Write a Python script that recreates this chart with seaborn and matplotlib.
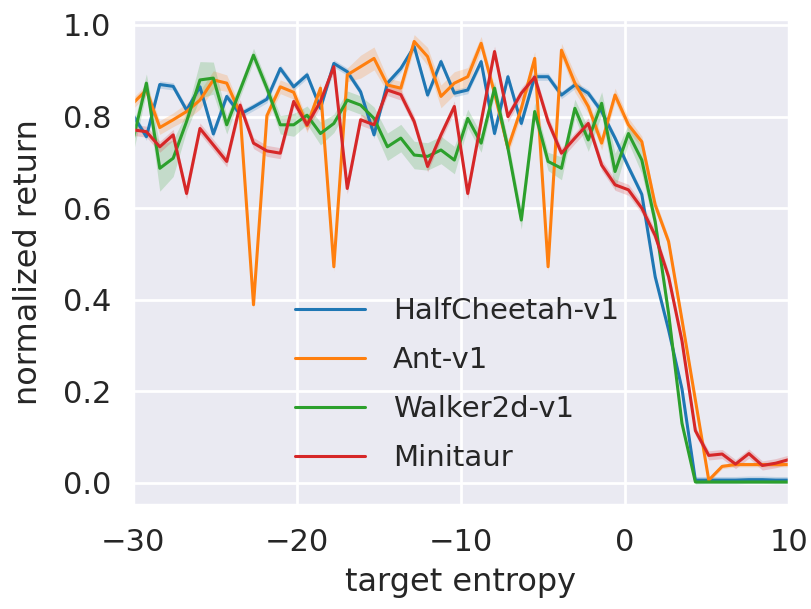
import numpy as np
import pandas as pd
import matplotlib
matplotlib.use("Agg")
import matplotlib.pyplot as plt
import seaborn as sns

# ---------------- data ----------------
target_entropy = np.linspace(-30, 10, 50)

envs = ["HalfCheetah-v1", "Ant-v1", "Walker2d-v1", "Minitaur"]

halfcheetah = [0.803, 0.756, 0.870, 0.866, 0.814, 0.865, 0.762, 0.844, 0.805, 0.821,
               0.838, 0.905, 0.865, 0.891, 0.818, 0.916, 0.898, 0.854, 0.760, 0.873,
               0.905, 0.953, 0.847, 0.920, 0.851, 0.858, 0.920, 0.763, 0.887, 0.785,
               0.887, 0.887, 0.847, 0.869, 0.851, 0.811, 0.753, 0.690, 0.630, 0.450,
               0.334, 0.205, 0.006, 0.006, 0.006, 0.006, 0.007, 0.007, 0.006, 0.006]
ant = [0.829, 0.858, 0.776, 0.793, 0.811, 0.836, 0.880, 0.873, 0.807, 0.389,
       0.802, 0.865, 0.853, 0.780, 0.862, 0.472, 0.891, 0.909, 0.927, 0.869,
       0.862, 0.964, 0.931, 0.844, 0.873, 0.887, 0.960, 0.851, 0.731, 0.818,
       0.927, 0.472, 0.945, 0.873, 0.822, 0.742, 0.847, 0.782, 0.745, 0.607,
       0.527, 0.356, 0.181, 0.006, 0.036, 0.040, 0.040, 0.040, 0.040, 0.040]
walker2d = [0.749, 0.873, 0.687, 0.709, 0.789, 0.880, 0.884, 0.782, 0.858, 0.934,
            0.862, 0.782, 0.782, 0.803, 0.763, 0.785, 0.836, 0.825, 0.796, 0.734,
            0.753, 0.716, 0.713, 0.727, 0.705, 0.796, 0.742, 0.862, 0.731, 0.574,
            0.811, 0.702, 0.687, 0.818, 0.749, 0.829, 0.680, 0.763, 0.705, 0.570,
            0.370, 0.130, 0.002, 0.002, 0.002, 0.002, 0.002, 0.002, 0.002, 0.002]
minitaur = [0.771, 0.767, 0.734, 0.760, 0.632, 0.774, 0.738, 0.702, 0.825, 0.742,
            0.725, 0.720, 0.833, 0.782, 0.833, 0.909, 0.643, 0.793, 0.782, 0.858,
            0.848, 0.789, 0.691, 0.760, 0.822, 0.632, 0.789, 0.942, 0.800, 0.851,
            0.886, 0.789, 0.720, 0.753, 0.785, 0.694, 0.651, 0.640, 0.600, 0.540,
            0.450, 0.310, 0.114, 0.060, 0.063, 0.041, 0.064, 0.038, 0.043, 0.051]

# half-width of the shaded confidence band around each curve
halfcheetah_ci = [0.008] * 50
ant_ci = [0.012, 0.012, 0.015, 0.015, 0.018, 0.020, 0.020, 0.018, 0.015, 0.010,
          0.012, 0.015, 0.015, 0.015, 0.012, 0.010, 0.015, 0.025, 0.025, 0.015,
          0.015, 0.015, 0.020, 0.025, 0.025, 0.020, 0.015, 0.015, 0.015, 0.015,
          0.015, 0.010, 0.015, 0.020, 0.015, 0.015, 0.015, 0.015, 0.012, 0.012,
          0.010, 0.010, 0.008, 0.005, 0.005, 0.005, 0.005, 0.005, 0.005, 0.005]
walker2d_ci = [0.030, 0.020, 0.050, 0.040, 0.020, 0.040, 0.035, 0.020, 0.015, 0.015,
               0.015, 0.020, 0.025, 0.020, 0.025, 0.020, 0.020, 0.020, 0.025, 0.030,
               0.030, 0.030, 0.030, 0.030, 0.030, 0.020, 0.020, 0.015, 0.020, 0.020,
               0.020, 0.020, 0.025, 0.020, 0.025, 0.025, 0.040, 0.020, 0.030, 0.020,
               0.015, 0.010, 0.004, 0.003, 0.003, 0.003, 0.003, 0.003, 0.003, 0.003]
minitaur_ci = [0.012] * 42 + [0.010] * 8

# ---------------- build tidy table ----------------
rows = []
for env, vals, ci in zip(envs,
                         [halfcheetah, ant, walker2d, minitaur],
                         [halfcheetah_ci, ant_ci, walker2d_ci, minitaur_ci]):
    for x, v, h in zip(target_entropy, vals, ci):
        rows.append({"target entropy": x, "normalized return": v - h, "env": env})
        rows.append({"target entropy": x, "normalized return": v + h, "env": env})
df = pd.DataFrame(rows)

# ---------------- plot ----------------
sns.set_theme(style="darkgrid", context="poster")
palette = {"HalfCheetah-v1": "#1f77b4", "Ant-v1": "#ff7f0e",
           "Walker2d-v1": "#2ca02c", "Minitaur": "#d62728"}

fig = plt.figure(figsize=(8.11, 6.09), dpi=100)
ax = fig.add_axes([0.164, 0.171, 0.809, 0.797])

sns.lineplot(data=df, x="target entropy", y="normalized return", hue="env",
             hue_order=envs, palette=palette, estimator="mean",
             errorbar=("pi", 100), linewidth=2.2, ax=ax,
             err_kws={"alpha": 0.2, "linewidth": 0})

ax.set_xlim(-30, 10)
ax.set_ylim(-0.048, 1.012)
ax.set_xticks([-30, -20, -10, 0, 10])
ax.set_yticks([0.0, 0.2, 0.4, 0.6, 0.8, 1.0])
ax.tick_params(labelsize=22)
ax.tick_params(axis="x", pad=5)
ax.set_xlabel("target entropy", fontsize=23, labelpad=7)
ax.set_ylabel("normalized return", fontsize=23, labelpad=14)

handles, labels = ax.get_legend_handles_labels()
leg = ax.legend(handles, labels, loc="center left", bbox_to_anchor=(0.229, 0.248),
                frameon=False, fontsize=21, handlelength=2.4, handletextpad=0.95,
                borderaxespad=0, labelspacing=0.72)
for line in leg.get_lines():
    line.set_linewidth(2.2)

fig.savefig("out.png", dpi=100)
